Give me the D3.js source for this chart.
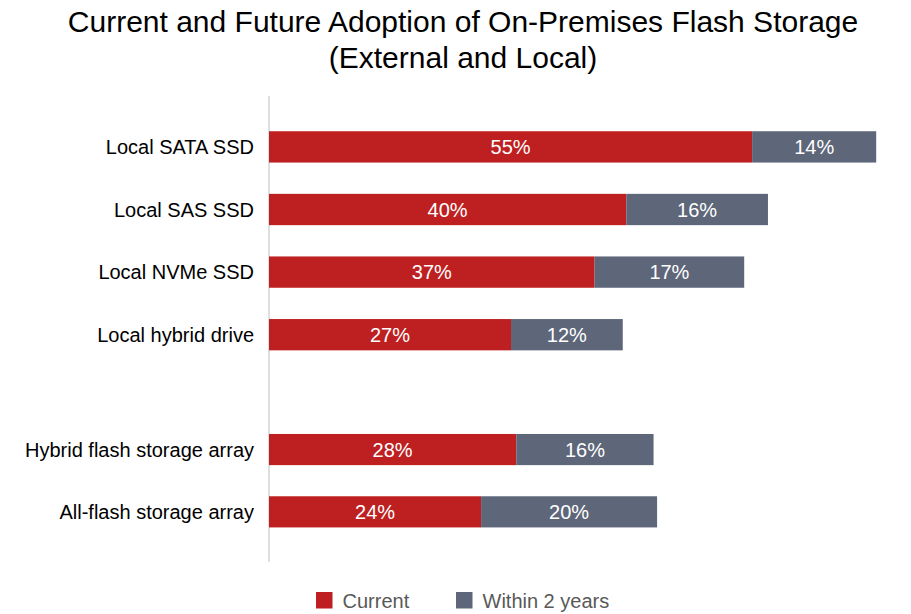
<!DOCTYPE html>
<html>
<head>
<meta charset="utf-8">
<script src="https://cdn.jsdelivr.net/npm/d3@7"></script>
<style>
  body { margin: 0; background: #fff; }
  svg { display: block; font-family: Arial, "Liberation Sans", sans-serif; }
</style>
</head>
<body>
<svg id="chart" width="911" height="614"></svg>
<script>
const localCategories = ["Local SATA SSD", "Local SAS SSD", "Local NVMe SSD", "Local hybrid drive"];
const arrayCategories = ["Hybrid flash storage array", "All-flash storage array"];
const localCurrent = [54.9, 40.6, 37.0, 27.5];
const localFuture = [14.1, 16.1, 17.0, 12.7];
const arrayCurrent = [28.1, 24.1];
const arrayFuture = [15.6, 20.0];
const localCurrentLabels = ["55%", "40%", "37%", "27%"];
const localFutureLabels = ["14%", "16%", "17%", "12%"];
const arrayCurrentLabels = ["28%", "24%"];
const arrayFutureLabels = ["16%", "20%"];
const seriesNames = ["Current", "Within 2 years"];
const colors = ["#BE1F21", "#5E6679"];

const svg = d3.select("#chart");

svg.append("text").attr("x", 463).attr("y", 32).attr("text-anchor", "middle")
  .attr("font-size", 30).attr("fill", "#000")
  .text("Current and Future Adoption of On-Premises Flash Storage");
svg.append("text").attr("x", 463).attr("y", 68).attr("text-anchor", "middle")
  .attr("font-size", 30).attr("fill", "#000")
  .text("(External and Local)");

const x = d3.scaleLinear().domain([0, 100]).range([269, 1149]);
const yLocal = d3.scaleBand().domain(localCategories).range([115.6, 366]).paddingInner(0.5).paddingOuter(0.25);
const yArray = d3.scaleBand().domain(arrayCategories).range([418.4, 543]).paddingInner(0.5).paddingOuter(0.25);

// axis line
svg.append("line").attr("x1", x(0)).attr("x2", x(0)).attr("y1", 96).attr("y2", 562)
  .attr("stroke", "#BFBFBF").attr("stroke-width", 1);

const rows = [
  ...localCategories.map((c, i) => ({ c, y: yLocal(c), h: yLocal.bandwidth(), cur: localCurrent[i], fut: localFuture[i], cl: localCurrentLabels[i], fl: localFutureLabels[i] })),
  ...arrayCategories.map((c, i) => ({ c, y: yArray(c), h: yArray.bandwidth(), cur: arrayCurrent[i], fut: arrayFuture[i], cl: arrayCurrentLabels[i], fl: arrayFutureLabels[i] }))
];

const g = svg.append("g");
g.selectAll("rect.cur").data(rows).join("rect").attr("class", "cur")
  .attr("x", x(0)).attr("y", d => d.y).attr("height", d => d.h)
  .attr("width", d => x(d.cur) - x(0)).attr("fill", colors[0]);
g.selectAll("rect.fut").data(rows).join("rect").attr("class", "fut")
  .attr("x", d => x(d.cur)).attr("y", d => d.y).attr("height", d => d.h)
  .attr("width", d => x(d.cur + d.fut) - x(d.cur)).attr("fill", colors[1]);

g.selectAll("text.cl").data(rows).join("text").attr("class", "cl")
  .attr("x", d => (x(0) + x(d.cur)) / 2).attr("y", d => d.y + d.h / 2)
  .attr("dy", "0.36em").attr("text-anchor", "middle").attr("font-size", 20).attr("fill", "#fff")
  .text(d => d.cl);
g.selectAll("text.fl").data(rows).join("text").attr("class", "fl")
  .attr("x", d => (x(d.cur) + x(d.cur + d.fut)) / 2).attr("y", d => d.y + d.h / 2)
  .attr("dy", "0.36em").attr("text-anchor", "middle").attr("font-size", 20).attr("fill", "#fff")
  .text(d => d.fl);

// category labels
g.selectAll("text.cat").data(rows).join("text").attr("class", "cat")
  .attr("x", 254).attr("y", d => d.y + d.h / 2)
  .attr("dy", "0.36em").attr("text-anchor", "end").attr("font-size", 20).attr("fill", "#000")
  .text(d => d.c);

// legend
const legendX = [316, 456];
seriesNames.forEach((name, i) => {
  svg.append("rect").attr("x", legendX[i]).attr("y", 592).attr("width", 16.5).attr("height", 16.5).attr("fill", colors[i]);
  svg.append("text").attr("x", legendX[i] + 26.5).attr("y", 600.5).attr("dy", "0.36em")
    .attr("font-size", 20).attr("fill", "#595959").text(name);
});
</script>
</body>
</html>
